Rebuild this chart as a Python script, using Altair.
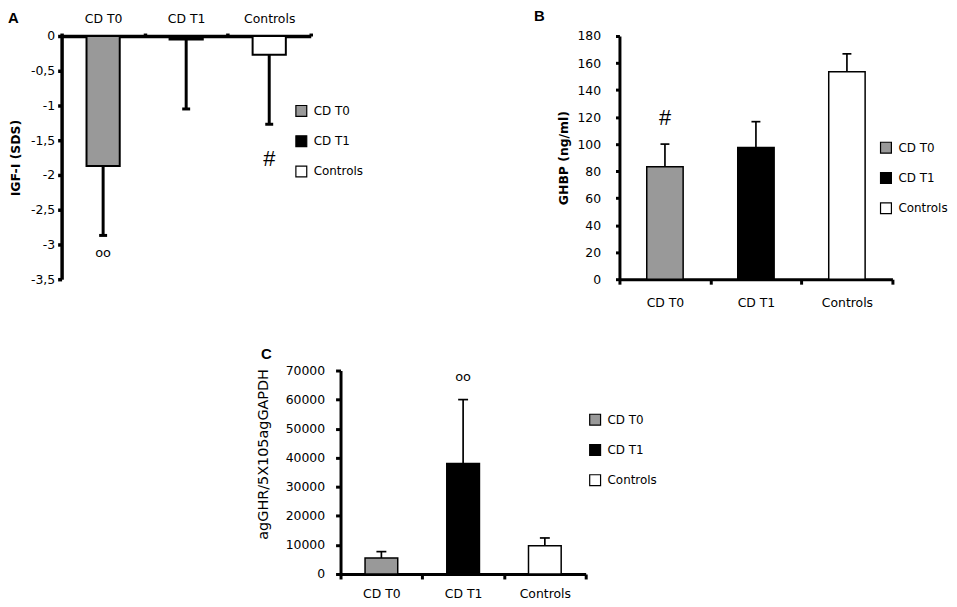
import altair as alt
import pandas as pd

FONT = "DejaVu Sans"

categories = ["CD T0", "CD T1", "Controls"]
fills = ["#999999", "#000000", "#ffffff"]

# Panel A: IGF-I (SDS)
igf_values = [-1.87, -0.05, -0.27]
igf_errors = [1.00, 1.00, 1.00]
igf_ticks = [0, -0.5, -1, -1.5, -2, -2.5, -3, -3.5]
igf_note_cats = ["CD T0", "Controls"]
igf_note_vals = [-3.12, -1.77]
igf_note_text = ["oo", "#"]

# Panel B: GHBP (ng/ml)
ghbp_values = [83.3, 97.5, 153.6]
ghbp_errors = [16.7, 19.1, 13.2]
ghbp_ticks = [0, 20, 40, 60, 80, 100, 120, 140, 160, 180]
ghbp_note_cats = ["CD T0"]
ghbp_note_vals = [119]
ghbp_note_text = ["#"]

# Panel C: agGHR/5X105agGAPDH
ghr_values = [5500, 38000, 9700]
ghr_errors = [2200, 22000, 2700]
ghr_ticks = [0, 10000, 20000, 30000, 40000, 50000, 60000, 70000]
ghr_note_cats = ["CD T1"]
ghr_note_vals = [67700]
ghr_note_text = ["oo"]


def panel(values, errors, down, ticks, domain, ytitle, title_x, title_y,
          title_size, title_weight, x_orient, width, height, legend_xy,
          notes, letter, letter_xy, bar_sw, err_sw, cap_size, dom_w,
          y_tick, y_pad, x_tick, x_pad, label_expr=None, fmt=None):
    df = pd.DataFrame({"cat": categories, "value": values, "err": errors})
    sign = -1 if down else 1
    df["end"] = df["value"] + sign * df["err"]

    xscale = alt.Scale(domain=categories, paddingInner=0, paddingOuter=0)
    xaxis = alt.Axis(orient=x_orient, title=None, tickBand="extent",
                     labelAngle=0, labelFont=FONT, labelFontSize=12.5,
                     labelColor="black", domainColor="black",
                     domainWidth=dom_w, tickColor="black", tickWidth=dom_w,
                     tickSize=x_tick, labelPadding=x_pad, grid=False,
                     labelOverlap=False)
    yargs = dict(values=ticks, tickCount=40, title=ytitle, titleX=title_x,
                 titleFont=FONT, titleFontSize=title_size,
                 titleFontWeight=title_weight, titleColor="black",
                 labelFont=FONT, labelFontSize=12.5, labelColor="black",
                 domainColor="black", domainWidth=dom_w, tickColor="black",
                 tickWidth=dom_w, tickSize=y_tick, labelPadding=y_pad,
                 grid=False, labelOverlap=False)
    if title_y is not None:
        yargs["titleY"] = title_y
    if label_expr is not None:
        yargs["labelExpr"] = label_expr
    if fmt is not None:
        yargs["format"] = fmt
    yaxis = alt.Axis(**yargs)
    yscale = alt.Scale(domain=domain, nice=False, zero=False)

    x = alt.X("cat:N", sort=categories, scale=xscale, axis=xaxis)

    bars = alt.Chart(df).mark_bar(
        width=alt.RelativeBandSize(0.4), stroke="black", strokeWidth=bar_sw
    ).encode(
        x=x,
        y=alt.Y("value:Q", scale=yscale, axis=yaxis),
        y2=alt.datum(0),
        fill=alt.Fill("cat:N", sort=categories,
                      scale=alt.Scale(domain=categories, range=fills),
                      legend=alt.Legend(
                          title=None, orient="none",
                          legendX=legend_xy[0], legendY=legend_xy[1],
                          symbolType="square", symbolSize=120,
                          symbolStrokeColor="black", symbolStrokeWidth=1.2,
                          labelFont=FONT, labelFontSize=12,
                          labelColor="black", rowPadding=13.5,
                          labelOffset=6, padding=0)),
    )
    rule = alt.Chart(df).mark_rule(color="black", strokeWidth=err_sw).encode(
        x=alt.X("cat:N", sort=categories),
        y=alt.Y("value:Q"),
        y2="end:Q",
    )
    cap = alt.Chart(df).mark_tick(
        color="black", orient="horizontal", size=cap_size,
        thickness=err_sw, opacity=1
    ).encode(
        x=alt.X("cat:N", sort=categories),
        y=alt.Y("end:Q"),
    )
    ndf = pd.DataFrame({"cat": notes[0], "v": notes[1], "t": notes[2]})
    note_oo = alt.Chart(ndf[ndf["t"] == "oo"]).mark_text(
        font=FONT, fontSize=13, color="black", baseline="middle"
    ).encode(x=alt.X("cat:N", sort=categories), y=alt.Y("v:Q"), text="t:N")
    note_hash = alt.Chart(ndf[ndf["t"] == "#"]).mark_text(
        font="Liberation Sans", fontSize=22, color="black", baseline="middle"
    ).encode(x=alt.X("cat:N", sort=categories), y=alt.Y("v:Q"), text="t:N")

    ldf = pd.DataFrame({"t": [letter]})
    let = alt.Chart(ldf).mark_text(
        font="Liberation Sans", fontSize=15, fontWeight="bold",
        color="black", align="left", baseline="top"
    ).encode(x=alt.value(letter_xy[0]), y=alt.value(letter_xy[1]), text="t:N")

    layers = [bars, rule, cap]
    if (ndf["t"] == "oo").any():
        layers.append(note_oo)
    if (ndf["t"] == "#").any():
        layers.append(note_hash)
    layers.append(let)
    return alt.layer(*layers).properties(width=width, height=height)


chart_a = panel(
    igf_values, igf_errors, True, igf_ticks, [-3.5, 0], "IGF-I (SDS)",
    -39, None, 12.5, "bold", "top", 251, 245, (235, 69),
    (igf_note_cats, igf_note_vals, igf_note_text), "A", (-54, -25),
    2, 3, 8, 3.5, 4, 3, 3, 8,
    label_expr="replace(toString(datum.value), '.', ',')")

chart_b = panel(
    ghbp_values, ghbp_errors, False, ghbp_ticks, [0, 180], "GHBP (ng/ml)",
    -49, None, 12.5, "bold", "bottom", 275, 245, (262, 106),
    (ghbp_note_cats, ghbp_note_vals, ghbp_note_text), "B", (-86, -27),
    1.5, 1.7, 9, 3, 4, 15, 5, 12, fmt="d")

chart_c = panel(
    ghr_values, ghr_errors, False, ghr_ticks, [0, 70000], "agGHR/5X105agGAPDH",
    -71, 84, 14.5, "normal", "bottom", 247, 205, (250, 43),
    (ghr_note_cats, ghr_note_vals, ghr_note_text), "C", (-80, -24),
    1.5, 1.7, 10, 3, 5, 11, 5, 9, fmt="d")


def spacer():
    return alt.Chart(pd.DataFrame({"s": [0]})).mark_point(opacity=0).encode(
        x=alt.value(0), y=alt.value(0)
    ).properties(width=10, height=1)


chart = alt.concat(
    chart_a, spacer(), chart_b, spacer(), chart_c,
    columns=3, spacing={"row": 92, "column": 6},
    bounds="flush", align="all",
).resolve_scale(
    fill="independent", x="independent", y="independent"
).resolve_legend(fill="independent").properties(
    padding={"left": 54, "top": 26, "right": 894, "bottom": 571},
    autosize=alt.AutoSizeParams(type="none"),
    background="white",
).configure_view(stroke=None)

chart.save("out.html", embed_options={"renderer": "svg", "actions": False})
